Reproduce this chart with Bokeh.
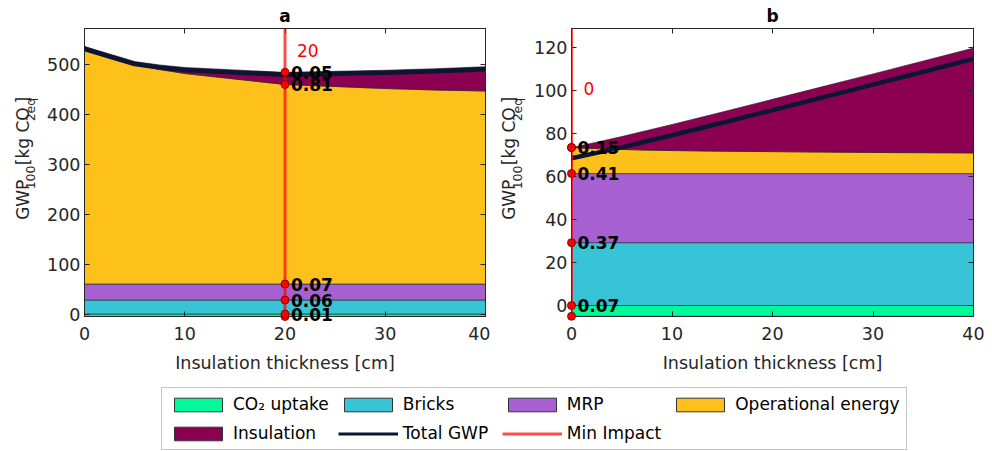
import numpy as np
from bokeh.plotting import figure
from bokeh.models import Span, Label, LinearAxis, Legend, LegendItem, Range1d, FixedTicker
from bokeh.layouts import column, row
from bokeh.embed import file_html
from bokeh.resources import INLINE
from bokeh.core.properties import value

# ------------------------------------------------------------------ data
thickness = [0, 2.5, 5, 7.5, 10, 15, 20, 25, 30, 35, 40]          # insulation thickness [cm]

co2_uptake_a = [-5.0] * 11
bricks_a = [28.0] * 11
mrp_a = [32.0] * 11
operational_a = [475, 457, 439, 429, 421, 410, 399, 395, 391, 388, 386]
insulation_a = [0, 3.0, 6.0, 9.1, 12.1, 18.2, 24.3, 30.4, 36.5, 42.6, 48.7]
shares_a = ["0.01", "0.06", "0.07", "0.81", "0.05"]

co2_uptake_b = [-5.0] * 11
bricks_b = [29.2] * 11
mrp_b = [32.1] * 11
operational_b = [12.1, 11.6, 11.2, 10.9, 10.7, 10.4, 10.2, 10.0, 9.8, 9.7, 9.6]
insulation_b = [0, 3.0, 6.0, 9.1, 12.1, 18.2, 24.3, 30.4, 36.5, 42.6, 48.7]
shares_b = ["0.07", "0.37", "0.41", "0.15", ""]

x_ticks = [0, 10, 20, 30, 40]
y_ticks_a = [0, 100, 200, 300, 400, 500]
y_ticks_b = [0, 20, 40, 60, 80, 100, 120]

categories = ["CO\u2082 uptake", "Bricks", "MRP", "Operational energy", "Insulation"]
line_names = ["Total GWP", "Min Impact"]
# y-axis title in runs: (text, is_subscript)
ylabel_runs = [("GWP", False), ("100", True), ("[kg CO", False), ("2eq", True), ("]", False)]

# ------------------------------------------------------------------ style
FONT = "DejaVu Sans"
TXT = "#262626"
COLORS = ["#00fa9a", "#38c4d7", "#a660d2", "#fec01b", "#8b0051"]
TOTAL_COLOR = "#0b1634"
EDGE = "#222222"
FRAME_W_A, FRAME_W_B, FRAME_H = 401, 402, 288
TOP, BOTTOM = 28, 64
FIG_H = TOP + FRAME_H + BOTTOM
# DejaVu Sans advance widths (em) used to lay the label runs end to end
EM = {"GWP": 2.367, "100": 1.908, "[kg CO": 3.407, "2eq": 1.886, "]": 0.390}
SPACE_PX = 8.0


def style_axis(ax, labels=True):
    ax.axis_line_color = TXT
    ax.major_tick_line_color = TXT
    ax.major_tick_in = 5
    ax.major_tick_out = 0
    ax.minor_tick_line_color = None
    ax.major_label_text_font = FONT
    if labels:
        ax.major_label_text_font_size = "17.5px"
        ax.major_label_text_color = TXT
    else:
        ax.major_label_text_font_size = "1px"
        ax.major_label_text_color = None
        ax.major_label_standoff = 0


def ylabel_strip(width, center_x):
    """Narrow figure holding the rotated y-axis title (with subscripts)."""
    f = figure(width=width, height=FIG_H, x_range=Range1d(0, width),
               y_range=Range1d(0, FIG_H), output_backend="svg",
               toolbar_location=None, min_border=0)
    f.axis.visible = False
    f.grid.visible = False
    f.outline_line_color = None
    main, sub = 17.0, 12.5
    pos = FIG_H - 252.5          # start of the text, px from the bottom
    for txt, is_sub in ylabel_runs:
        size = sub if is_sub else main
        f.text(x=[center_x + (8.0 if is_sub else 0.0)], y=[pos], text=[txt],
               angle=np.pi / 2, text_align="left", text_baseline="middle",
               text_font=value(FONT), text_font_size=f"{size}px", text_color=TXT)
        pos += EM[txt] * size
        if txt == "100":
            pos += SPACE_PX
    return f


def build(title, x, co2, bricks, mrp, op, ins, shares, y_lo, y_hi, y_ticks,
          left, right, fw, text_y):
    x = np.asarray(x, float)
    comps = [np.asarray(c, float) for c in (co2, bricks, mrp, op, ins)]
    zero = np.zeros_like(x)
    bounds = [comps[0], zero]
    run = zero.copy()
    for c in comps[1:]:
        run = run + c
        bounds.append(run.copy())
    total = sum(comps)
    imin = int(np.argmin(total))
    xm = x[imin]

    p = figure(width=left + fw + right, height=FIG_H,
               x_range=Range1d(x[0], x[-1]), y_range=Range1d(y_lo, y_hi),
               output_backend="svg", toolbar_location=None,
               min_border_left=left, min_border_right=right,
               min_border_top=TOP, min_border_bottom=BOTTOM)
    p.grid.visible = False
    p.outline_line_color = TXT
    p.background_fill_color = "white"
    p.border_fill_color = "white"

    p.title.text = title
    p.title.align = "center"
    p.title.text_font = FONT
    p.title.text_font_size = "17px"
    p.title.text_font_style = "bold"
    p.title.text_color = "black"
    p.title.standoff = 5

    for k in range(5):
        lo, hi = bounds[k], bounds[k + 1]
        p.patch(np.concatenate([x, x[::-1]]), np.concatenate([hi, lo[::-1]]),
                fill_color=COLORS[k], line_color=EDGE, line_width=0.6)
    p.line(x, total, line_color=TOTAL_COLOR, line_width=4.5)

    p.add_layout(Span(location=xm, dimension="height", line_color="red",
                      line_alpha=0.7, line_width=3))

    dot_y = [b[imin] for b in bounds]
    p.scatter(x=[xm] * len(dot_y), y=dot_y, size=8, fill_color="red",
              line_color="#6a0000", line_width=0.8, level="overlay")
    lab_y = [bounds[k + 1][imin] for k in range(5) if shares[k]]
    lab_t = [s for s in shares if s]
    p.text(x=[xm] * len(lab_y), y=lab_y, text=lab_t, x_offset=6,
           text_align="left", text_baseline="middle", text_color="black",
           text_font=value(FONT), text_font_size="17px",
           text_font_style="bold", level="overlay")
    p.add_layout(Label(x=xm, y=text_y, text=f"{xm:g}", x_offset=12,
                       text_color="red", text_font=FONT, text_font_size="17px",
                       text_baseline="middle", text_align="left"))

    p.xaxis.ticker = FixedTicker(ticks=x_ticks)
    p.yaxis.ticker = FixedTicker(ticks=y_ticks)
    style_axis(p.xaxis[0])
    style_axis(p.yaxis[0])
    p.xaxis.major_label_standoff = 10
    p.yaxis.major_label_standoff = 4
    p.xaxis.axis_label = "Insulation thickness [cm]"
    p.xaxis.axis_label_text_font = FONT
    p.xaxis.axis_label_text_font_size = "17.5px"
    p.xaxis.axis_label_text_font_style = "normal"
    p.xaxis.axis_label_text_color = TXT
    p.xaxis.axis_label_standoff = 10

    top_ax = LinearAxis(ticker=FixedTicker(ticks=x_ticks))
    style_axis(top_ax, labels=False)
    p.add_layout(top_ax, "above")
    right_ax = LinearAxis(ticker=FixedTicker(ticks=y_ticks))
    style_axis(right_ax, labels=False)
    p.add_layout(right_ax, "right")
    return p


ya = ylabel_strip(42, 22.0)
pa = build("a", thickness, co2_uptake_a, bricks_a, mrp_a, operational_a,
           insulation_a, shares_a, -5.0, 571.0, y_ticks_a, 42, 5, FRAME_W_A, 528)
yb = ylabel_strip(40, 18.5)
pb = build("b", thickness, co2_uptake_b, bricks_b, mrp_b, operational_b,
           insulation_b, shares_b, -5.1, 128.7, y_ticks_b, 41, 19, FRAME_W_B, 101)

# ------------------------------------------------------------------ legend
leg = figure(width=992, height=71, x_range=Range1d(0, 1), y_range=Range1d(0, 1),
             output_backend="svg", toolbar_location=None, min_border=0)
leg.axis.visible = False
leg.grid.visible = False
leg.outline_line_color = None
nan1 = [np.nan]
items = []
for name, col in zip(categories, COLORS):
    r = leg.patch(x=nan1, y=nan1, fill_color=col, line_color="#333333", line_width=1)
    items.append(LegendItem(label=name, renderers=[r]))
r_tot = leg.line(x=nan1, y=nan1, line_color=TOTAL_COLOR, line_width=3)
items.append(LegendItem(label=line_names[0], renderers=[r_tot]))
r_min = leg.line(x=nan1, y=nan1, line_color="red", line_alpha=0.7, line_width=3)
items.append(LegendItem(label=line_names[1], renderers=[r_min]))

legend = Legend(items=items, orientation="horizontal", ncols=4,
                location=(161, 1), glyph_width=60, glyph_height=17,
                label_height=20, label_width=90, label_standoff=5, spacing=9,
                padding=6, margin=0, label_text_font=FONT,
                label_text_font_size="17px", label_text_color="black",
                border_line_color="#8c8c8c", border_line_width=1,
                background_fill_color="white", background_fill_alpha=1)
leg.add_layout(legend)

layout = column(row(ya, pa, yb, pb), leg)
open("out.html", "w").write(file_html(layout, INLINE))
